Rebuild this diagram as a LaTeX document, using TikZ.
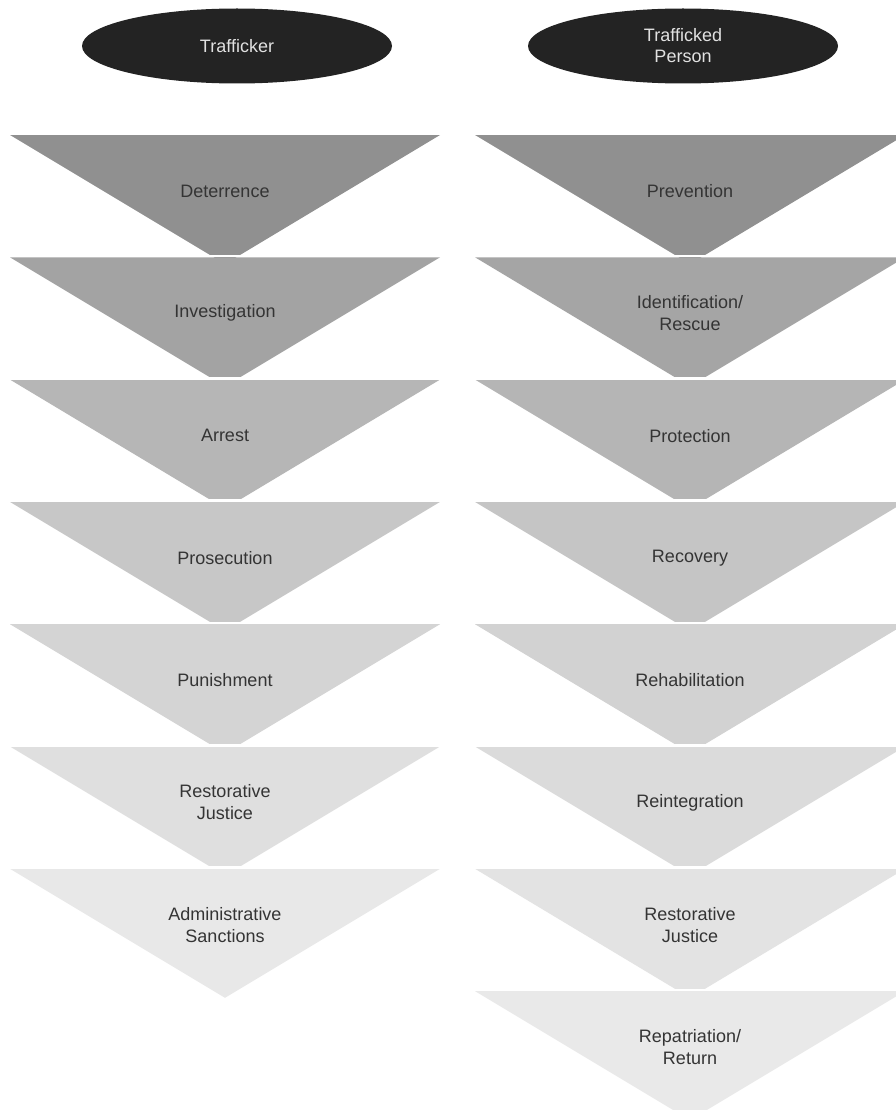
\documentclass[tikz,border=0pt]{standalone}
\usepackage{fontspec}
\setmainfont{Liberation Sans}
\usetikzlibrary{shapes.geometric}
\definecolor{txtgray}{RGB}{52,52,52}
\definecolor{ovalfill}{RGB}{35,35,35}
\definecolor{ovaltext}{RGB}{225,225,225}
\tikzset{
  oval/.style={ellipse, fill=ovalfill, draw=none, minimum width=310pt, minimum height=75pt, inner sep=0pt,
    text=ovaltext, align=center, font=\fontsize{18}{21}\selectfont},
  gapline/.style={draw=white, line width=2.5pt},
  lbl/.style={text=txtgray, align=center, font=\fontsize{18}{22}\selectfont, inner sep=0pt}
}
\begin{document}
\begin{tikzpicture}[x=1pt,y=-1pt]
\clip (0,0) rectangle (896,1110);
\fill[white] (0,0) rectangle (896,1110);
\node[oval] (trafficker) at (237,46) {Trafficker};
\node[oval] (person) at (683,46) {Trafficked\\Person};
% left column
\foreach \k/\g/\t/\name in {0/144/Deterrence/l1, 1/163/Investigation/l2, 2/182/Arrest/l3,
  3/199/Prosecution/l4, 4/212/Punishment/l5, 5/223/{Restorative\\Justice}/l6,
  6/232/{Administrative\\Sanctions}/l7}{
  \pgfmathsetmacro{\ty}{135+122.3*\k}
  \definecolor{tc}{RGB}{\g,\g,\g}
  \fill[tc] (10,\ty) -- (440,\ty) -- (225,\ty+129) -- cycle;
  \draw[gapline] (0,\ty-1.25) -- (450,\ty-1.25);
  \node[lbl] (\name) at (225,\ty+56) {\t};
}
% right column
\foreach \k/\g/\t/\name in {0/144/Prevention/r1, 1/165/{Identification/\\Rescue}/r2, 2/181/Protection/r3,
  3/197/Recovery/r4, 4/210/Rehabilitation/r5, 5/219/Reintegration/r6,
  6/227/{Restorative\\Justice}/r7, 7/233/{Repatriation/\\Return}/r8}{
  \pgfmathsetmacro{\ty}{135+122.3*\k}
  \definecolor{tc}{RGB}{\g,\g,\g}
  \fill[tc] (475,\ty) -- (905,\ty) -- (690,\ty+129) -- cycle;
  \draw[gapline] (465,\ty-1.25) -- (910,\ty-1.25);
  \node[lbl] (\name) at (690,\ty+56) {\t};
}
\end{tikzpicture}
\end{document}
